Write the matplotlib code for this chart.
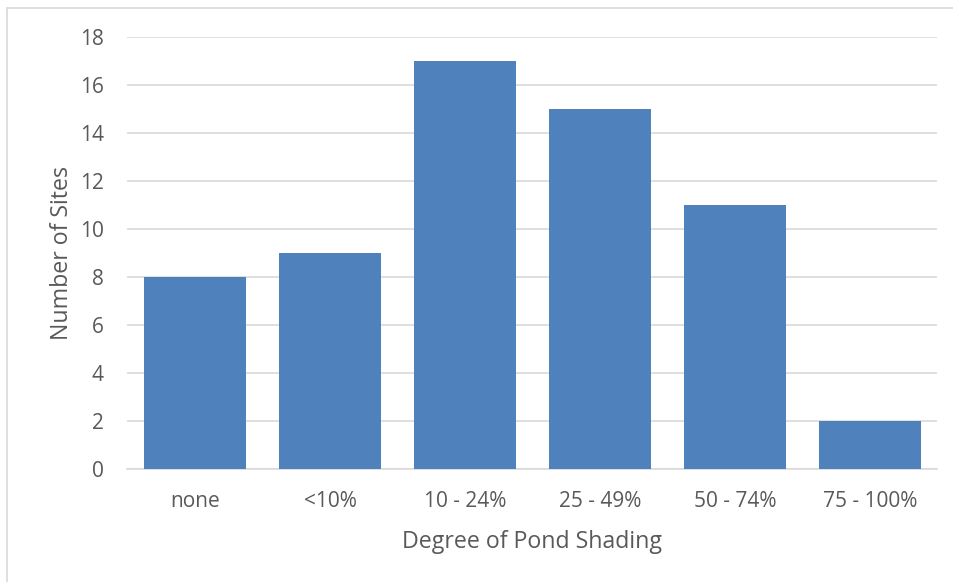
import matplotlib
matplotlib.use('Agg')
import matplotlib.pyplot as plt
from matplotlib.patches import Rectangle

# pond shading survey counts
categories = ['none', '<10%', '10 - 24%', '25 - 49%', '50 - 74%', '75 - 100%']
sites = [8, 9, 17, 15, 11, 2]
yticks = list(range(0, 20, 2))

text_col = '#595959'
plt.rcParams['font.family'] = ['Open Sans', 'DejaVu Sans']

fig = plt.figure(figsize=(9.54, 5.82), dpi=100)
ax = fig.add_axes([0.1336, 0.1942, 0.849, 0.7423])

x = range(len(categories))
ax.bar(x, sites, width=0.75, color='#4F81BD', zorder=3)

ax.set_xlim(-0.5, len(categories) - 0.5)
ax.set_ylim(0, 18)
ax.set_yticks(yticks)
ax.set_xticks(list(x))
ax.set_xticklabels(categories)
ax.grid(axis='y', color='#D9D9D9', linewidth=1.2, zorder=0)
for s in ['top', 'right', 'left']:
    ax.spines[s].set_visible(False)
ax.spines['bottom'].set_color('#D9D9D9')
ax.spines['bottom'].set_linewidth(1.2)
ax.tick_params(length=0, labelsize=15, labelcolor=text_col)
ax.tick_params(axis='y', pad=17)
ax.tick_params(axis='x', pad=16)

ax.set_xlabel('Degree of Pond Shading', fontsize=16.7, color=text_col, labelpad=13)
ax.set_ylabel('Number of Sites', fontsize=16.7, color=text_col, labelpad=4)

# chart frame
fig.patches.append(Rectangle((7 / 954, -0.1), 1.2, 1 - 8 / 582 + 0.1,
                             transform=fig.transFigure, fill=False,
                             edgecolor='#D9D9D9', linewidth=1.2))

fig.savefig('out.png', dpi=100)
